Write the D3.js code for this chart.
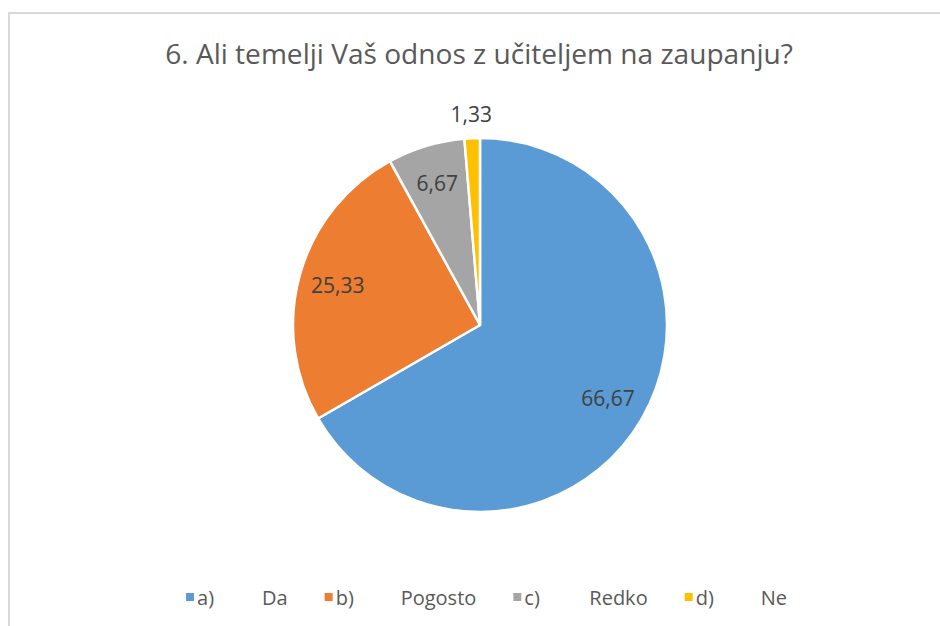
<!DOCTYPE html>
<html><head><meta charset="utf-8">
<script src="https://cdn.jsdelivr.net/npm/d3@7"></script>
<style>html,body{margin:0;padding:0;background:#fff}</style>
</head><body>
<svg id="chart" width="940" height="626"></svg>
<script>
const title = "6. Ali temelji Vaš odnos z učiteljem na zaupanju?";
const categories = ["a)", "b)", "c)", "d)"];
const names = ["Da", "Pogosto", "Redko", "Ne"];
const values = [66.67, 25.33, 6.67, 1.33];
const labels = ["66,67", "25,33", "6,67", "1,33"];
const colors = ["#5B9BD5", "#ED7D31", "#A5A5A5", "#FFC000"];

const svg = d3.select("#chart");
const font = "'Open Sans', sans-serif";

// frame
svg.append("path").attr("d", "M9,640 V13 H945").attr("fill", "none")
  .attr("stroke", "#d9d9d9").attr("stroke-width", 2);

// title
const t = svg.append("text").attr("x", 479).attr("y", 64).attr("text-anchor", "middle")
  .attr("font-family", font).attr("font-size", 25).attr("fill", "#595959").text(title);
const tw = t.node().getComputedTextLength();
t.attr("font-size", 25 * 628 / tw);

// pie
const cx = 480, cy = 325, r = 187;
const pie = d3.pie().sort(null).value(d => d)(values);
const arc = d3.arc().innerRadius(0).outerRadius(r);
const g = svg.append("g").attr("transform", `translate(${cx},${cy})`);
g.selectAll("path").data(pie).join("path")
  .attr("d", arc).attr("fill", (d, i) => colors[i])
  .attr("stroke", "#fff").attr("stroke-width", 2.5).attr("stroke-linejoin", "round");

const inArc = d3.arc().innerRadius(r * 0.79).outerRadius(r * 0.79);
const outArc = d3.arc().innerRadius(r + 24).outerRadius(r + 24);
g.selectAll("text.lbl").data(pie).join("text").attr("class", "lbl")
  .attr("transform", d => {
    const p = (d.data < 3 ? outArc : inArc).centroid(d);
    return `translate(${p[0]},${p[1]})`;
  })
  .attr("text-anchor", "middle").attr("dy", "0.35em")
  .attr("font-family", font).attr("font-size", 21).attr("fill", "#404040")
  .text((d, i) => labels[i]);

// legend
const lg = svg.append("g");
let x = 0;
categories.forEach((c, i) => {
  const e = lg.append("g").attr("transform", `translate(${x},0)`);
  e.append("rect").attr("x", 0).attr("y", -5).attr("width", 8).attr("height", 8).attr("fill", colors[i]);
  e.append("text").attr("x", 11).attr("y", 0).attr("dy", "0.35em")
    .attr("font-family", font).attr("font-size", 20).attr("fill", "#595959").text(c);
  const n = e.append("text").attr("x", 76).attr("y", 0).attr("dy", "0.35em")
    .attr("font-family", font).attr("font-size", 20).attr("fill", "#595959").text(names[i]);
  x += 76 + n.node().getComputedTextLength() + 37;
});
const totalW = x - 37;
lg.attr("transform", `translate(${486.5 - totalW / 2},598)`);
</script>
</body></html>
